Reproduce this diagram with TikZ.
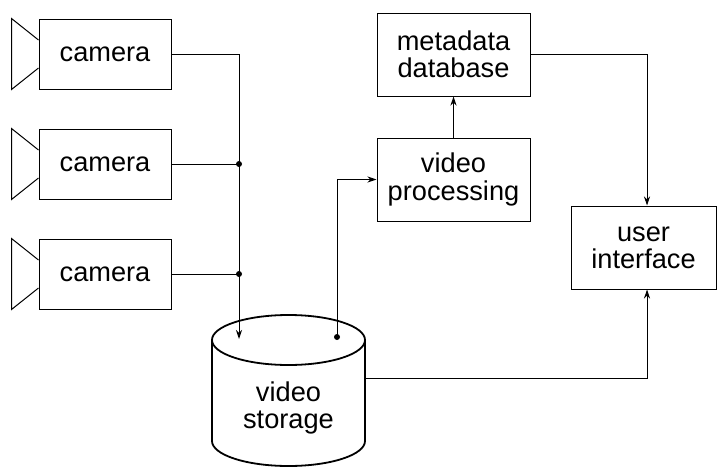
\documentclass[tikz,border=0pt]{standalone}
\usepackage{fontspec}
\setmainfont{Liberation Sans}
\usetikzlibrary{positioning,calc,arrows.meta}

\tikzset{
  box/.style={draw, line width=0.5pt, align=center, inner sep=0pt},
  cambox/.style={box, minimum width=66pt, minimum height=35pt},
  bigbox/.style={box, minimum width=76.5pt, minimum height=41.5pt},
  link/.style={line width=0.5pt},
  arr/.style={link, -{Stealth[length=4.5pt,width=3pt]}},
  drum/.style={line width=0.9pt},
  dot/.style={circle, fill, inner sep=0pt, minimum size=3pt}
}

\begin{document}
\begin{tikzpicture}[x=0.5pt, y=-0.5pt, font=\fontsize{13.6}{13.6}\selectfont]
\useasboundingbox (0,0) rectangle (717,466);

% cameras
\node[cambox] (cam1) at (105,54) {camera};
\node[cambox, below=19.5pt of cam1] (cam2) {camera};
\node[cambox, below=19.5pt of cam2] (cam3) {camera};
\foreach \c in {cam1,cam2,cam3}
  \draw[link] ($(\c.west)+(0,-14)$) -- ($(\c.north west)+(-27,0)$)
    -- ($(\c.south west)+(-27,0)$) -- ($(\c.west)+(0,14)$);

% storage
\coordinate (st) at (288.5,340);
\draw[drum] (212,340) -- (212,441)
  arc[start angle=180, end angle=360, x radius=38.25pt, y radius=12.5pt] -- (365,340);
\draw[drum] (st) ellipse [x radius=38.25pt, y radius=12.5pt];
\node[align=center] (store) at (288.5,408) {video\\storage};
\coordinate (in) at (239,339);
\coordinate (out) at (337,337);
\coordinate (side) at (365,378);

% processing side
\node[bigbox] (md) at (453.5,54.5) {metadata\\database};
\node[bigbox, below=20.5pt of md] (vp) {video\\processing};
\node[box, minimum width=72.5pt, minimum height=41.5pt] (ui) at (643.5,247.5) {user\\interface};

% connectors
\draw[arr] (cam1.east) -| (in);
\draw[link] (cam2.east) -- (cam2.east -| in) node[dot] {};
\draw[link] (cam3.east) -- (cam3.east -| in) node[dot] {};
\draw[arr] (out) |- (vp.west);
\node[dot] at (out) {};
\draw[arr] (vp.north) -- (md.south);
\draw[arr] (md.east) -| ([xshift=1.75pt]ui.north);
\draw[arr] (side) -| ([xshift=1.75pt]ui.south);

\end{tikzpicture}
\end{document}
